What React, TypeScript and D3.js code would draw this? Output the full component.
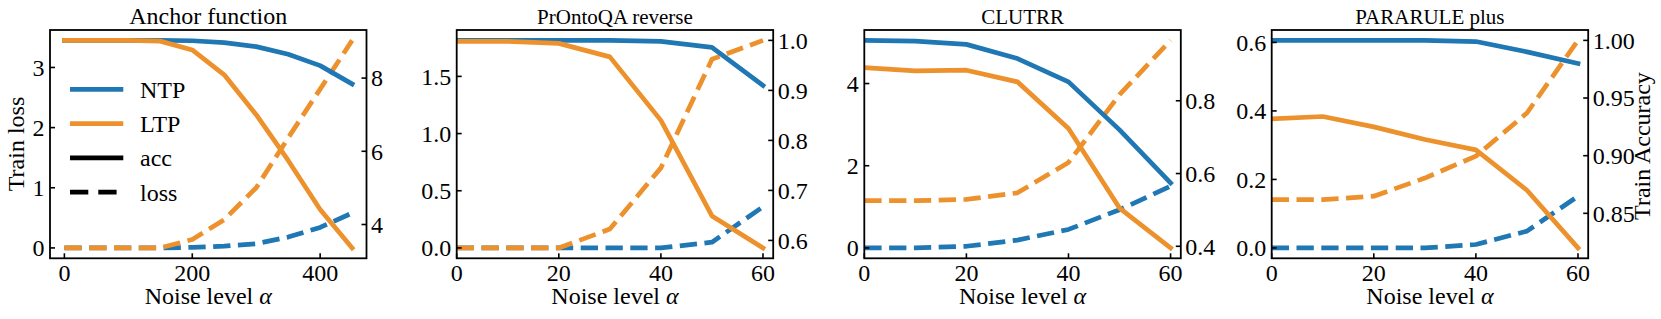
import React from 'react'
import * as d3 from 'd3'

const BLUE = '#1f77b4'
const ORANGE = '#ec912c'
const FONT = "'Liberation Serif', 'Times New Roman', Times, 'DejaVu Serif', serif"

// Anchor function
const anchorNoise = [0, 50, 100, 150, 200, 250, 300, 350, 400, 450]
const anchorNtpAcc = [9.03, 9.03, 9.03, 9.03, 9.02, 8.97, 8.86, 8.65, 8.34, 7.84]
const anchorLtpAcc = [9.03, 9.03, 9.03, 9.01, 8.77, 8.09, 7.0, 5.75, 4.41, 3.36]
const anchorNtpLoss = [0, 0, 0, 0, 0.01, 0.03, 0.07, 0.18, 0.34, 0.58]
const anchorLtpLoss = [0, 0, 0, 0, 0.14, 0.47, 1.0, 1.83, 2.64, 3.45]

// shared noise levels for the three reasoning tasks
const taskNoise = [0, 10, 20, 30, 40, 50, 60]

// PrOntoQA reverse
const prontoNtpAcc = [1.0, 1.0, 1.0, 1.0, 0.998, 0.986, 0.91]
const prontoLtpAcc = [0.998, 0.998, 0.994, 0.967, 0.84, 0.649, 0.585]
const prontoNtpLoss = [0, 0, 0, 0, 0, 0.05, 0.36]
const prontoLtpLoss = [0, 0, 0, 0.165, 0.7, 1.65, 1.815]

// CLUTRR
const clutrrNtpAcc = [0.966, 0.964, 0.955, 0.916, 0.852, 0.72, 0.574]
const clutrrLtpAcc = [0.891, 0.882, 0.884, 0.852, 0.724, 0.505, 0.3955]
const clutrrNtpLoss = [0, 0, 0.04, 0.19, 0.45, 0.93, 1.5]
const clutrrLtpLoss = [1.15, 1.15, 1.18, 1.34, 2.08, 3.73, 5.05]

// PARARULE plus
const pararuleNtpAcc = [1.0, 1.0, 1.0, 1.0, 0.999, 0.99, 0.98]
const pararuleLtpAcc = [0.932, 0.934, 0.925, 0.914, 0.905, 0.87, 0.82]
const pararuleNtpLoss = [0, 0, 0, 0, 0.01, 0.049, 0.151]
const pararuleLtpLoss = [0.141, 0.141, 0.151, 0.204, 0.268, 0.394, 0.606]

// ticks
const anchorXTicks = [0, 200, 400]
const taskXTicks = [0, 20, 40, 60]
const anchorLossTicks = [0, 1, 2, 3]
const anchorAccTicks = [4, 6, 8]
const prontoLossTicks = [0, 0.5, 1.0, 1.5]
const prontoAccTicks = [0.6, 0.7, 0.8, 0.9, 1.0]
const clutrrLossTicks = [0, 2, 4]
const clutrrAccTicks = [0.4, 0.6, 0.8]
const pararuleLossTicks = [0, 0.2, 0.4, 0.6]
const pararuleAccTicks = [0.85, 0.9, 0.95, 1.0]

const panels = [
    {
        title: 'Anchor function', titleSize: 24,
        x: anchorNoise, xLim: null, xTicks: anchorXTicks,
        ntpAcc: anchorNtpAcc, ltpAcc: anchorLtpAcc, ntpLoss: anchorNtpLoss, ltpLoss: anchorLtpLoss,
        lossTicks: anchorLossTicks, lossFmt: 'd', accTicks: anchorAccTicks, accFmt: 'd',
    },
    {
        title: 'PrOntoQA reverse', titleSize: 21,
        x: taskNoise, xLim: [0, 62], xTicks: taskXTicks,
        ntpAcc: prontoNtpAcc, ltpAcc: prontoLtpAcc, ntpLoss: prontoNtpLoss, ltpLoss: prontoLtpLoss,
        lossTicks: prontoLossTicks, lossFmt: '.1f', accTicks: prontoAccTicks, accFmt: '.1f',
    },
    {
        title: 'CLUTRR', titleSize: 21,
        x: taskNoise, xLim: [0, 62], xTicks: taskXTicks,
        ntpAcc: clutrrNtpAcc, ltpAcc: clutrrLtpAcc, ntpLoss: clutrrNtpLoss, ltpLoss: clutrrLtpLoss,
        lossTicks: clutrrLossTicks, lossFmt: 'd', accTicks: clutrrAccTicks, accFmt: '.1f',
    },
    {
        title: 'PARARULE plus', titleSize: 21,
        x: taskNoise, xLim: [0, 62], xTicks: taskXTicks,
        ntpAcc: pararuleNtpAcc, ltpAcc: pararuleLtpAcc, ntpLoss: pararuleNtpLoss, ltpLoss: pararuleLtpLoss,
        lossTicks: pararuleLossTicks, lossFmt: '.1f', accTicks: pararuleAccTicks, accFmt: '.2f',
    },
]

const W = 1661
const H = 319
const top = 30
const bottom = 258.3
const frameW = 316.5
const lefts = [50, 456.7, 864.3, 1271.7]
const LW = 4.7
const DASH = '17.3,7.5'
const LEGEND_DASH = '18.3,10'
const TICK_FS = 24
const txt = { fontFamily: FONT }

// matplotlib style 5% margins
const padded = (values) => {
    const [lo, hi] = d3.extent(values)
    const m = (hi - lo) * 0.05
    return [lo - m, hi + m]
}

const Panel = ({ p, i }) => {
    const left = lefts[i]
    const right = left + frameW
    const x = d3.scaleLinear()
          .domain(p.xLim || padded(p.x))
          .range([left, right])
    const yLoss = d3.scaleLinear()
          .domain(padded([...p.ntpLoss, ...p.ltpLoss]))
          .range([bottom, top])
    const yAcc = d3.scaleLinear()
          .domain(padded([...p.ntpAcc, ...p.ltpAcc]))
          .range([bottom, top])

    const path = (vals, y) => d3.line()
          .x((d, k) => x(p.x[k]))
          .y(d => y(d))(vals)

    const fmtL = d3.format(p.lossFmt)
    const fmtA = d3.format(p.accFmt)
    const clipId = `clip${i}`
    const cx = (left + right) / 2

    return (
        <g>
            <defs>
                <clipPath id={clipId}>
                    <rect x={left} y={top} width={frameW} height={bottom - top} />
                </clipPath>
            </defs>
            <g clipPath={`url(#${clipId})`} fill="none" strokeWidth={LW}>
                <path d={path(p.ntpLoss, yLoss)} stroke={BLUE} strokeDasharray={DASH} strokeLinejoin="round" />
                <path d={path(p.ltpLoss, yLoss)} stroke={ORANGE} strokeDasharray={DASH} strokeLinejoin="round" />
                <path d={path(p.ntpAcc, yAcc)} stroke={BLUE} strokeLinecap="square" strokeLinejoin="round" />
                <path d={path(p.ltpAcc, yAcc)} stroke={ORANGE} strokeLinecap="square" strokeLinejoin="round" />
            </g>
            <rect x={left} y={top} width={frameW} height={bottom - top} fill="none" stroke="#000" strokeWidth={1.8} />
            {p.xTicks.map(t => (
                <g key={`x${t}`}>
                    <line x1={x(t)} x2={x(t)} y1={bottom} y2={bottom - 5} stroke="#000" strokeWidth={1.6} />
                    <text x={x(t)} y={281} textAnchor="middle" fontSize={TICK_FS} style={txt}>{t}</text>
                </g>
            ))}
            {p.lossTicks.map(t => (
                <g key={`l${t}`}>
                    <line x1={left} x2={left + 5} y1={yLoss(t)} y2={yLoss(t)} stroke="#000" strokeWidth={1.6} />
                    <text x={left - 5.5} y={yLoss(t)} dy="0.35em" textAnchor="end" fontSize={TICK_FS} style={txt}>{fmtL(t)}</text>
                </g>
            ))}
            {p.accTicks.map(t => (
                <g key={`a${t}`}>
                    <line x1={right} x2={right - 5} y1={yAcc(t)} y2={yAcc(t)} stroke="#000" strokeWidth={1.6} />
                    <text x={right + 4.5} y={yAcc(t)} dy="0.35em" textAnchor="start" fontSize={TICK_FS} style={txt}>{fmtA(t)}</text>
                </g>
            ))}
            <text x={cx} y={23.5} textAnchor="middle" fontSize={p.titleSize} style={txt}>{p.title}</text>
            <text x={cx} y={304.3} textAnchor="middle" fontSize={24} style={txt}>
                Noise level <tspan fontStyle="italic">α</tspan>
            </text>
        </g>
    )
}

const legendItems = [
    { label: 'NTP', color: BLUE, dash: null },
    { label: 'LTP', color: ORANGE, dash: null },
    { label: 'acc', color: '#000', dash: null },
    { label: 'loss', color: '#000', dash: LEGEND_DASH },
]

const Legend = () => (
    <g>
        {legendItems.map((d, k) => {
            const y = 89.3 + k * 34.3
            return (
                <g key={d.label}>
                    <line x1={70} x2={123.3} y1={y} y2={y} stroke={d.color} strokeWidth={LW}
                          strokeDasharray={d.dash || undefined} />
                    <text x={140} y={y} dy="0.35em" fontSize={24} style={txt}>{d.label}</text>
                </g>
            )
        })}
    </g>
)

const App = () => (
    <svg width={W} height={H} style={{ position: 'absolute', left: 0, top: 0, background: '#fff' }}>
        {panels.map((p, i) => <Panel key={p.title} p={p} i={i} />)}
        <Legend />
        <text transform={`translate(16,144) rotate(-90)`} textAnchor="middle" dy="0.35em" fontSize={24} style={txt}>Train loss</text>
        <text transform={`translate(1641.7,146) rotate(-90)`} textAnchor="middle" dy="0.35em" fontSize={24} style={txt}>Train Accuracy</text>
    </svg>
)

export default App
